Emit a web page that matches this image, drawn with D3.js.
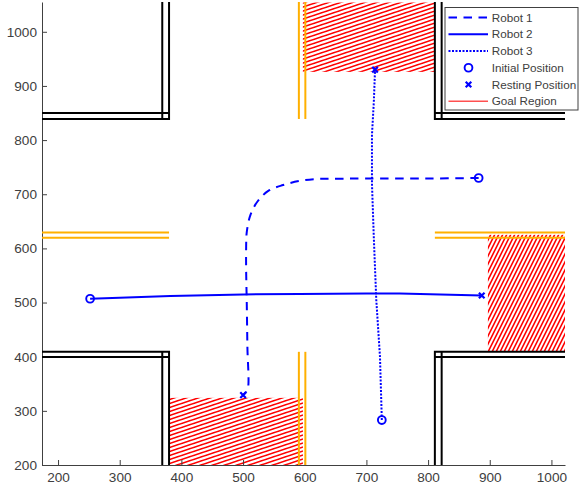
<!DOCTYPE html>
<html><head><meta charset="utf-8">
<script src="https://cdn.jsdelivr.net/npm/d3@7/dist/d3.min.js"></script>
<style>html,body{margin:0;padding:0;background:#fff}svg{display:block}text{font-family:"Liberation Sans",Arial,sans-serif}</style>
</head><body><svg id="c" width="579" height="489"></svg>
<script>
const xTicks=[200,300,400,500,600,700,800,900,1000];
const yTicks=[200,300,400,500,600,700,800,900,1000];
const robot1=[[882,730],[800,729],[700,729],[640,728.5],[617,728],[591,724.5],[565,717],[542,707],[524,687.5],[512,662],[506,630],[505,602],[505,560],[506,500],[507,420],[508,342],[505,335],[500,329]];
const robot2=[[252,507],[300,509],[382,512],[500,515],[592,516],[700,516.5],[754,516.5],[820,515],[887,513]];
const robot3=[[725,283],[722,400],[716,505],[712,620],[709,720],[709,809],[712,870],[714,930]];
const initials=[[882,730],[252,507],[725,283]];
const restings=[[500,329],[887,513],[714,930]];
const goals=[[380,200,597,324],[597,926,811,1054],[897,409,1022,625]];
const hatchTiles=[[12,4],[12,4],[4,8]];
const blackWalls=[
 [[174,850],[380,850]],[[174,839],[380,839],[380,1055]],[[369,839],[369,1055]],
 [[174,409],[380,409],[380,200]],[[174,399.5],[380,399.5]],[[369,409],[369,200]],
 [[1022,850],[811,850]],[[1022,839],[811,839],[811,1055]],[[822,839],[822,1055]],
 [[1022,409],[811,409],[811,200]],[[1022,399.5],[811,399.5]],[[822,409],[822,200]]];
const orangeWalls=[
 [[590.5,839],[590.5,1055]],[[601,839],[601,1055]],
 [[590.5,200],[590.5,409]],[[601,200],[601,409]],
 [[174,619.5],[380,619.5]],[[174,629.5],[380,629.5]],
 [[811,619.5],[1022,619.5]],[[811,629.5],[1022,629.5]]];
const legendNames=["Robot 1","Robot 2","Robot 3","Initial Position","Resting Position","Goal Region"];
const BLUE="#0000ff",RED="#ff0000",ORANGE="#ffb000",INK="#404040";

const svg=d3.select("#c");
const x=d3.scaleLinear().domain([174,1022]).range([42,565]);
const y=d3.scaleLinear().domain([200,1055]).range([465,2]);
const line=d3.line().x(d=>x(d[0])).y(d=>y(d[1]));

const defs=svg.append("defs");
goals.forEach((g,i)=>{
  const [w,h]=hatchTiles[i];
  const id="h"+i;
  const p=defs.append("pattern").attr("id",id).attr("patternUnits","userSpaceOnUse").attr("width",w).attr("height",h);
  p.append("path").attr("d",`M${-w},${h} L${w},${-h} M0,${2*h} L${2*w},0 M${-w},${2*h} L${2*w},${-h}`)
    .attr("stroke",RED).attr("stroke-width",1.6).attr("fill","none");
  svg.append("rect").attr("x",x(g[0])).attr("y",y(g[3])).attr("width",x(g[2])-x(g[0])).attr("height",y(g[1])-y(g[3])).attr("fill",`url(#${id})`);
});

const ax=svg.append("g").attr("transform","translate(0,465)").call(d3.axisBottom(x).tickValues(xTicks).tickSize(-5).tickSizeOuter(0).tickPadding(7).tickFormat(d3.format("d")));
const ay=svg.append("g").attr("transform","translate(42,0)").call(d3.axisLeft(y).tickValues(yTicks).tickSize(-5).tickSizeOuter(0).tickPadding(5).tickFormat(d3.format("d")));
[ax,ay].forEach(a=>{a.selectAll("text").attr("fill",INK).style("font-size","13.6px").style("font-family",'"Liberation Sans",Arial,sans-serif');
 a.selectAll("line").attr("stroke",INK);a.select(".domain").attr("stroke",INK).attr("stroke-width",1);});

svg.append("g").selectAll("path").data(orangeWalls).join("path").attr("d",line).attr("fill","none").attr("stroke",ORANGE).attr("stroke-width",2);
svg.append("g").selectAll("path").data(blackWalls).join("path").attr("d",line).attr("fill","none").attr("stroke","#000").attr("stroke-width",2);

svg.append("path").datum(robot1).attr("d",line.curve(d3.curveCatmullRom)).attr("fill","none").attr("stroke",BLUE).attr("stroke-width",2).attr("stroke-dasharray","8.5 6.5");
line.curve(d3.curveLinear);
svg.append("path").datum(robot2).attr("d",line).attr("fill","none").attr("stroke",BLUE).attr("stroke-width",2);
svg.append("path").datum(robot3).attr("d",line).attr("fill","none").attr("stroke",BLUE).attr("stroke-width",2).attr("stroke-dasharray","2 1.5");
svg.append("g").selectAll("circle").data(initials).join("circle").attr("cx",d=>x(d[0])).attr("cy",d=>y(d[1])).attr("r",3.9).attr("fill","none").attr("stroke",BLUE).attr("stroke-width",1.9);
svg.append("g").selectAll("path").data(restings).join("path").attr("transform",d=>`translate(${x(d[0])},${y(d[1])})`).attr("d","M-2.8,-2.8L2.8,2.8M-2.8,2.8L2.8,-2.8").attr("stroke",BLUE).attr("stroke-width",2.2);

const lg=svg.append("g").attr("transform","translate(445,7.5)");
lg.append("rect").attr("x",0).attr("y",0).attr("width",133).attr("height",102.5).attr("fill","#fff").attr("stroke",INK).attr("stroke-width",1);
const rowY=i=>10+i*16.75;
legendNames.forEach((n,i)=>{
  const yy=rowY(i);
  lg.append("text").attr("x",46.7).attr("y",yy+4.2).attr("font-size",11.7).attr("fill",INK).text(n);
  if(i<3||i==5){
    const l=lg.append("line").attr("x1",3.5).attr("x2",43).attr("y1",yy).attr("y2",yy).attr("stroke",i==5?"#ff5050":BLUE).attr("stroke-width",i==5?1.3:2);
    if(i==0)l.attr("stroke-dasharray","8.5 6.5");
    if(i==2)l.attr("stroke-dasharray","2 1.5");
  } else if(i==3){
    lg.append("circle").attr("cx",23.5).attr("cy",yy).attr("r",3.9).attr("fill","none").attr("stroke",BLUE).attr("stroke-width",1.9);
  } else {
    lg.append("path").attr("transform",`translate(23.5,${yy})`).attr("d","M-2.8,-2.8L2.8,2.8M-2.8,2.8L2.8,-2.8").attr("stroke",BLUE).attr("stroke-width",2.2);
  }
});
</script></body></html>
